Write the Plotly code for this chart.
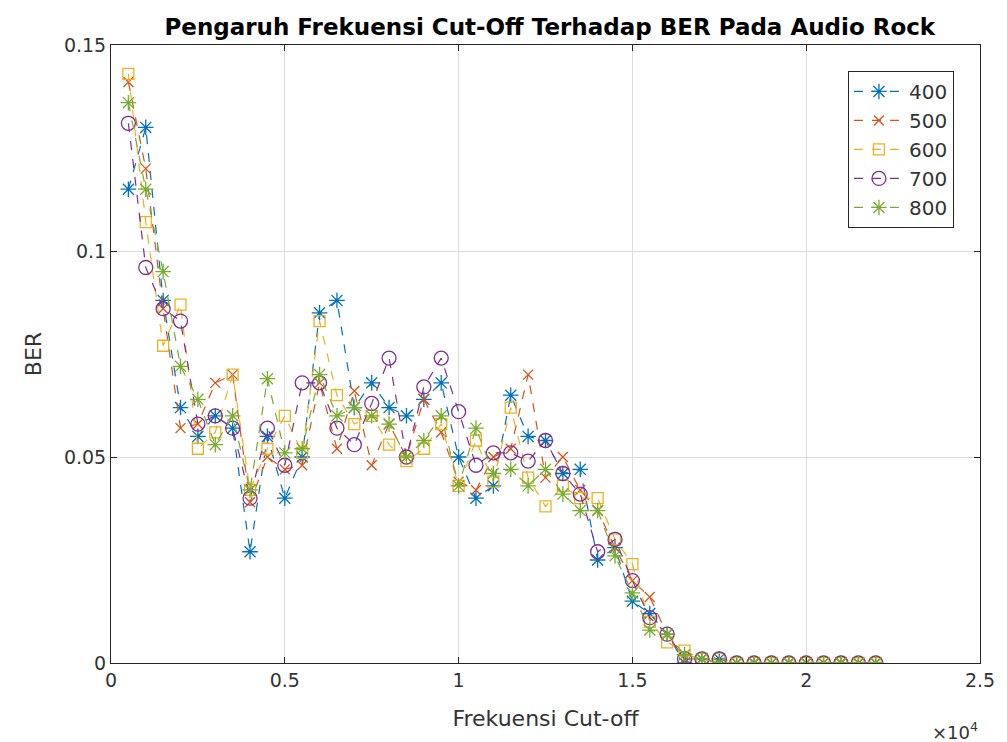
import plotly.graph_objects as go

freq = [500 * i for i in range(1, 45)]  # 500 .. 22000

ber_400 = [0.115, 0.130, 0.088, 0.062, 0.055, 0.060, 0.057, 0.027, 0.055, 0.040,
           0.050, 0.085, 0.088, 0.062, 0.068, 0.062, 0.060, 0.064, 0.068, 0.050,
           0.040, 0.043, 0.065, 0.055, 0.054, 0.046, 0.047, 0.025, 0.028, 0.015,
           0.012, 0.007, 0.000, 0.001, 0.001] + [0.0] * 9
ber_500 = [0.141, 0.120, 0.086, 0.057, 0.058, 0.068, 0.070, 0.039, 0.050, 0.047,
           0.048, 0.068, 0.052, 0.066, 0.048, 0.058, 0.050, 0.064, 0.056, 0.044,
           0.042, 0.050, 0.052, 0.070, 0.045, 0.050, 0.042, 0.037, 0.028, 0.020,
           0.016, 0.007, 0.001, 0.001, 0.000] + [0.0] * 9
ber_600 = [0.143, 0.107, 0.077, 0.087, 0.052, 0.056, 0.070, 0.042, 0.052, 0.060,
           0.051, 0.083, 0.065, 0.058, 0.060, 0.053, 0.049, 0.052, 0.058, 0.043,
           0.054, 0.044, 0.062, 0.045, 0.038, 0.043, 0.040, 0.040, 0.030, 0.024,
           0.010, 0.005, 0.003, 0.001, 0.001] + [0.0] * 9
ber_700 = [0.131, 0.096, 0.086, 0.083, 0.058, 0.060, 0.057, 0.040, 0.057, 0.048,
           0.068, 0.068, 0.057, 0.053, 0.063, 0.074, 0.050, 0.067, 0.074, 0.061,
           0.048, 0.051, 0.051, 0.049, 0.054, 0.046, 0.041, 0.027, 0.030, 0.020,
           0.011, 0.007, 0.001, 0.001, 0.001] + [0.0] * 9
ber_800 = [0.136, 0.115, 0.095, 0.072, 0.064, 0.053, 0.060, 0.042, 0.069, 0.051,
           0.052, 0.070, 0.060, 0.062, 0.060, 0.058, 0.050, 0.054, 0.060, 0.043,
           0.057, 0.046, 0.047, 0.043, 0.047, 0.041, 0.037, 0.037, 0.026, 0.017,
           0.008, 0.007, 0.002, 0.001, 0.000] + [0.0] * 9

series_names = ["400", "500", "600", "700", "800"]
series_vals = [ber_400, ber_500, ber_600, ber_700, ber_800]
colors = ["#0072BD", "#D95319", "#EDB120", "#7E2F8E", "#77AC30"]
symbols = ["asterisk-open", "x-thin-open", "square-open", "circle-open", "asterisk-open"]
msizes = [13, 10, 11, 14, 13]

x_tickvals = [0, 5000, 10000, 15000, 20000, 25000]
x_ticktext = ["0", "0.5", "1", "1.5", "2", "2.5"]
y_tickvals = [0, 0.05, 0.1, 0.15]
y_ticktext = ["0", "0.05", "0.1", "0.15"]

fig = go.Figure()
for name, vals, c, s, ms in zip(series_names, series_vals, colors, symbols, msizes):
    fig.add_trace(go.Scatter(
        x=freq, y=vals, name=name, mode="lines+markers",
        line=dict(color=c, width=1.2, dash="dash"),
        marker=dict(symbol=s, size=ms, color=c, line=dict(color=c, width=1.3)),
    ))

font_family = "DejaVu Sans, Verdana, sans-serif"
fig.update_layout(
    width=1007, height=742,
    margin=dict(l=111, r=27, t=45, b=79),
    paper_bgcolor="white", plot_bgcolor="white",
    font=dict(family=font_family, size=19, color="#333333"),
    title=dict(text="<b>Pengaruh Frekuensi Cut-Off Terhadap BER Pada Audio Rock</b>",
               x=0.546, xanchor="center", y=0.964, yanchor="middle",
               font=dict(size=23, color="black")),
    showlegend=True,
    legend=dict(x=0.97, xanchor="right", y=0.958, yanchor="top",
                bordercolor="#262626", borderwidth=1, bgcolor="white",
                font=dict(size=20, color="#333333"), tracegroupgap=0,
                itemwidth=50),
)
fig.update_xaxes(
    range=[0, 25000], tickvals=x_tickvals, ticktext=x_ticktext,
    showgrid=True, gridcolor="#DCDCDC", gridwidth=1,
    showline=True, linecolor="#262626", linewidth=1, mirror="ticks",
    ticks="inside", ticklen=6, tickcolor="#262626", zeroline=False,
    title=dict(text="Frekuensi Cut-off", font=dict(size=22, color="#333333"), standoff=20),
)
fig.update_yaxes(
    range=[0, 0.15], tickvals=y_tickvals, ticktext=y_ticktext,
    showgrid=True, gridcolor="#DCDCDC", gridwidth=1,
    showline=True, linecolor="#262626", linewidth=1, mirror="ticks",
    ticks="inside", ticklen=6, tickcolor="#262626", zeroline=False,
    title=dict(text="BER", font=dict(size=22, color="#333333"), standoff=16),
)
fig.add_annotation(text="×10<sup>4</sup>", xref="paper", yref="paper",
                   x=1.0, y=-0.11, xanchor="right", yanchor="middle",
                   showarrow=False, font=dict(size=18, color="#333333"))

fig.write_html("out.html")
